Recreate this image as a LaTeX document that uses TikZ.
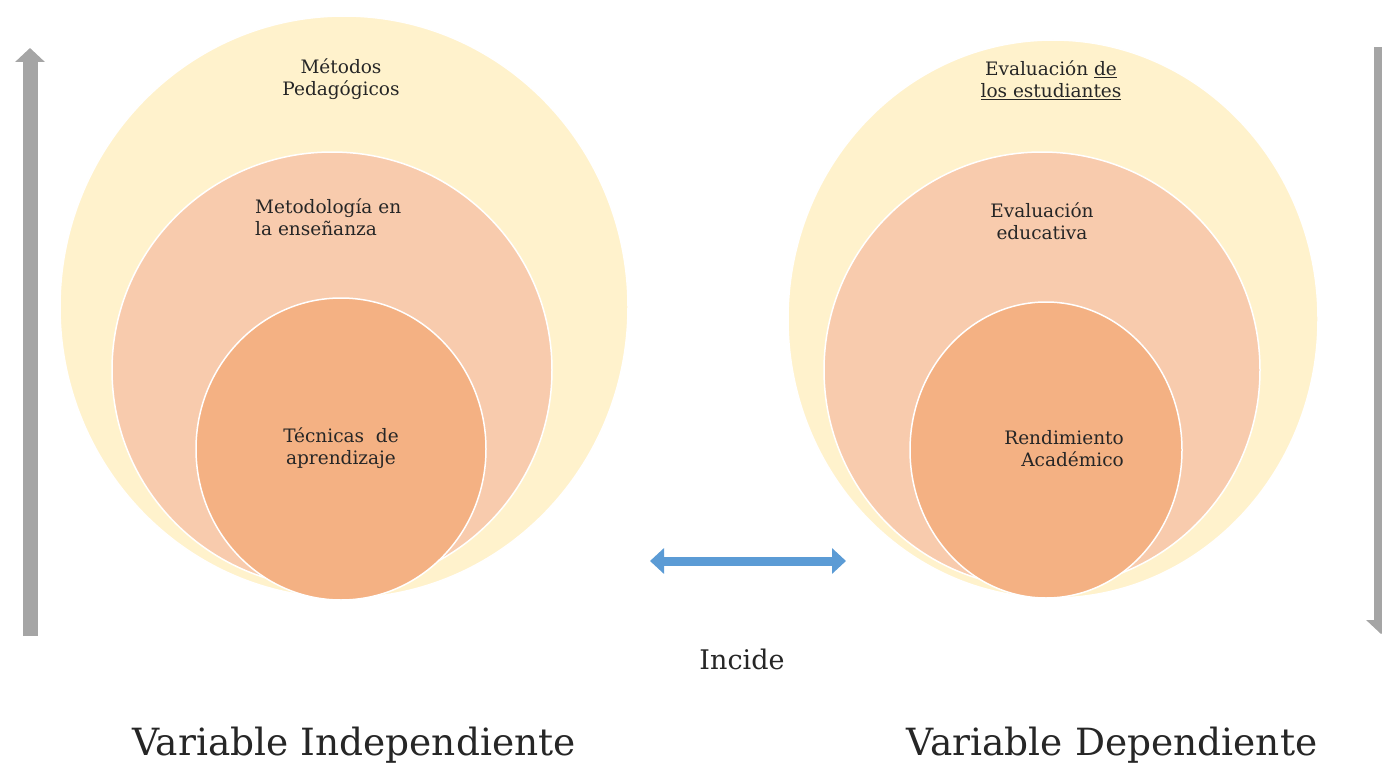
\documentclass[tikz,border=0pt]{standalone}
\usepackage{fontspec}
\setmainfont{DejaVu Serif}
\usetikzlibrary{positioning,arrows.meta}
\definecolor{outerfill}{RGB}{255,242,204}
\definecolor{midfill}{RGB}{248,203,173}
\definecolor{innerfill}{RGB}{244,177,131}
\definecolor{arrowblue}{RGB}{91,155,213}
\definecolor{arrowgray}{RGB}{165,165,165}
\tikzset{
  ring/.style={draw=white,line width=1.5pt},
  lbl/.style={align=center,inner sep=0pt,text=black!85,font=\fontsize{18.5}{22}\selectfont},
  bigtext/.style={inner sep=0pt,text=black!85,font=\fontsize{37.5}{40}\selectfont},
  vararrow/.style={arrowgray,line width=15pt,-{Triangle[width=29pt,length=14pt]}},
  incarrow/.style={arrowblue,line width=9pt,{Triangle[width=25pt,length=14pt]}-{Triangle[width=25pt,length=14pt]}}
}

\begin{document}
\begin{tikzpicture}[x=1pt,y=-1pt]
\useasboundingbox (0,0) rectangle (1382,768);
\coordinate (Lo) at (344,307);
\coordinate (Lm) at (332,370);
\coordinate (Li) at (341,449);
\coordinate (Ro) at (1053,319);
\coordinate (Rm) at (1042,370);
\coordinate (Ri) at (1046,450);
% independent variable
\fill[outerfill,ring] (Lo) ellipse[x radius=284pt,y radius=291pt];
\fill[midfill,ring] (Lm) ellipse[x radius=220pt,y radius=218pt];
\fill[innerfill,ring] (Li) ellipse[x radius=145pt,y radius=151pt];
% dependent variable
\fill[outerfill,ring] (Ro) ellipse[x radius=265pt,y radius=279pt];
\fill[midfill,ring] (Rm) ellipse[x radius=218pt,y radius=218pt];
\fill[innerfill,ring] (Ri) ellipse[x radius=136pt,y radius=148pt];

\node[lbl] (metodos) at (341,79) {Métodos\\Pedagógicos};
\node[lbl,align=left,anchor=west] (metodologia) at (255,217) {Metodología en\\la enseñanza};
\node[lbl] (tecnicas) at (341,448) {Técnicas\ \ de\\aprendizaje};
\node[lbl] (evalest) at (1051,80) {Evaluación \underline{de}\\\underline{los estudiantes}};
\node[lbl] (evaledu) at (1042,221) {Evaluación\\educativa};
\node[lbl,align=right,anchor=east] (rendimiento) at (1124,449) {Rendimiento\\Académico};

\coordinate (lbot) at (30,636);
\coordinate (ltop) at (30,48);
\coordinate (rtop) at (1381,47);
\coordinate (rbot) at (1381,634);
\draw[vararrow] (lbot) -- (ltop);
\draw[vararrow] (rtop) -- (rbot);

\coordinate (incl) at (650,561);
\coordinate (incr) at (846,561);
\draw[incarrow] (incl) -- (incr);
\node[bigtext,font=\fontsize{27}{30}\selectfont] (incide) at (742,659) {Incide};

\node[bigtext] (indep) at (354,745) {Variable Independiente};
\node[bigtext] (dep) at (1112,745) {Variable Dependiente};
\end{tikzpicture}
\end{document}
